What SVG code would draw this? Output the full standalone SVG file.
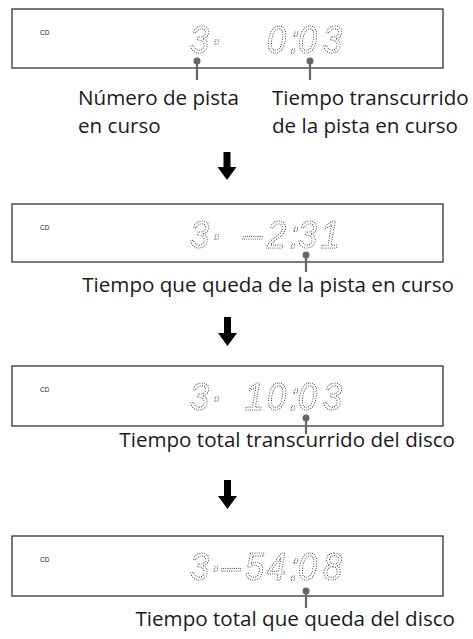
<svg xmlns="http://www.w3.org/2000/svg" width="473" height="639" viewBox="0 0 473 639">
<defs>
<filter id="gray" x="0" y="0" width="1" height="1"><feOffset dx="0" dy="0"/></filter>
<style>
.box{fill:#fff;stroke:#222;stroke-width:1.2}
.cd{font-family:"Liberation Sans",Arial,sans-serif;font-size:6.5px;fill:#222}
.seg{font-family:"Liberation Sans",Arial,sans-serif;font-style:italic;font-size:38px;fill:none;stroke:#333;stroke-width:1.15;stroke-dasharray:0 2.4;stroke-linecap:round}
.lbl{font-family:"Open Sans","Noto Sans",sans-serif;font-size:20.6px;fill:#1a1a1a}
.end{text-anchor:end}
.pin{stroke:#666;stroke-width:2.2;fill:none}
.pindot{fill:#666}
.arr{fill:#000}
</style>
</defs>
<g id="display1">
<rect class="box" x="12" y="9" width="431" height="59"/>
<text class="cd" x="40" y="35">CD</text>
<g transform="scale(0.9 1)" filter="url(#gray)"><text class="seg" x="211.1 234.5 296.7 322 331 358.9" y="53">3·0:03</text></g>
</g>
<g id="display2">
<rect class="box" x="12" y="204" width="431" height="58"/>
<text class="cd" x="40" y="230">CD</text>
<g transform="scale(0.9 1)" filter="url(#gray)"><text class="seg" x="211.1 234.5 270 296.7 322 331 356.5" y="248">3·–2:31</text></g>
</g>
<g id="display3">
<rect class="box" x="12" y="366" width="431" height="60"/>
<text class="cd" x="40" y="392">CD</text>
<g transform="scale(0.9 1)" filter="url(#gray)"><text class="seg" x="211.1 234.5 272.2 296.7 322 331 358.9" y="410">3·10:03</text></g>
</g>
<g id="display4">
<rect class="box" x="12" y="536" width="431" height="60"/>
<text class="cd" x="40" y="562">CD</text>
<g transform="scale(0.9 1)" filter="url(#gray)"><text class="seg" x="211.1 233.6 246 272.2 296.7 322 331 358.9" y="580">3·–54:08</text></g>
</g>
<g id="connectors">
<circle class="pindot" cx="197" cy="61" r="3.5"/><line class="pin" x1="197" y1="61" x2="197" y2="80"/>
<circle class="pindot" cx="310" cy="61" r="3.5"/><line class="pin" x1="310" y1="61" x2="310" y2="80"/>
<circle class="pindot" cx="306" cy="255" r="3.5"/><line class="pin" x1="306" y1="255" x2="306" y2="272"/>
<circle class="pindot" cx="306" cy="418" r="3.5"/><line class="pin" x1="306" y1="418" x2="306" y2="434"/>
<circle class="pindot" cx="306" cy="591" r="3.5"/><line class="pin" x1="306" y1="591" x2="306" y2="608"/>
<polygon class="arr" points="223.5,152 230.5,152 230.5,167 236.5,167 227,180 217.5,167 223.5,167"/>
<polygon class="arr" points="224,317 231,317 231,333 237,333 227.5,346 218,333 224,333"/>
<polygon class="arr" points="224,480 231,480 231,496 237,496 227.5,509 218,496 224,496"/>
</g>
<g id="labels">
<text class="lbl" x="78" y="105">Número de pista</text>
<text class="lbl" x="78" y="133">en curso</text>
<text class="lbl" x="272" y="105">Tiempo transcurrido</text>
<text class="lbl" x="272" y="133">de la pista en curso</text>
<text class="lbl end" x="454" y="292">Tiempo que queda de la pista en curso</text>
<text class="lbl end" x="455" y="447">Tiempo total transcurrido del disco</text>
<text class="lbl end" x="455" y="626">Tiempo total que queda del disco</text>
</g>
</svg>
